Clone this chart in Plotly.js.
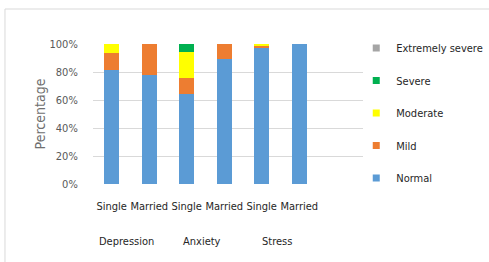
<!DOCTYPE html>
<html>
<head>
<meta charset="utf-8">
<script src="https://cdn.plot.ly/plotly-3.0.1.min.js"></script>
<style>html,body{margin:0;padding:0;background:#fff}#chart{width:489px;height:262px}</style>
</head>
<body>
<div id="chart"></div>
<script>
const categories = ['Depression Single','Depression Married','Anxiety Single','Anxiety Married','Stress Single','Stress Married'];
const tickLabels = ['Single','Married','Single','Married','Single','Married'];
const groupLabels = ['Depression','Anxiety','Stress'];
const groupCenters = [0.5, 2.5, 4.5];
const seriesNames = ['Normal','Mild','Moderate','Severe','Extremely severe'];
const normal   = [81.6, 77.8, 64.2, 89.0, 97.0, 100];
const mild     = [12.0, 22.2, 11.5, 11.0, 1.5, 0];
const moderate = [6.4, 0, 18.6, 0, 1.5, 0];
const severe   = [0, 0, 5.7, 0, 0, 0];
const extremelySevere = [0, 0, 0, 0, 0, 0];
const yTicks = [0, 20, 40, 60, 80, 100];
const yTickText = ['0%','20%','40%','60%','80%','100%'];

const colors = ['#5B9BD5','#ED7D31','#FFFF00','#00B050','#A5A5A5'];
const values = [normal, mild, moderate, severe, extremelySevere];
const FONT = '"DejaVu Sans Condensed", "Liberation Sans Narrow", "Liberation Sans", sans-serif';

const traces = [];
values.forEach((v, i) => {
  traces.push({
    type: 'bar', x: categories, y: v, name: seriesNames[i],
    marker: {color: colors[i], line: {width: 0}},
    width: 0.4, showlegend: false, hoverinfo: 'skip'
  });
});
// legend entries (small square markers), top to bottom: Extremely severe ... Normal
for (let i = values.length - 1; i >= 0; i--) {
  traces.push({
    type: 'scatter', mode: 'markers', x: [categories[0]], y: [null], name: seriesNames[i],
    marker: {color: colors[i], symbol: 'square', size: 7},
    legendgroup: 'g' + (values.length - 1 - i), showlegend: true, hoverinfo: 'skip'
  });
}

const annotations = groupLabels.map((g, i) => ({
  x: groupCenters[i], y: 0, xref: 'x', yref: 'paper', yshift: -66, xshift: -4,
  text: g, showarrow: false, font: {family: FONT, size: 11, color: '#262626'}
}));

const layout = {
  width: 489, height: 262,
  margin: {l: 93, r: 126, t: 44, b: 78, autoexpand: false},
  paper_bgcolor: '#fff', plot_bgcolor: '#fff',
  barmode: 'stack', bargap: 0.6,
  font: {family: FONT, size: 11, color: '#595959'},
  xaxis: {
    type: 'category', range: [-0.5, 6.7],
    tickvals: categories, ticktext: tickLabels, tickangle: 0,
    ticks: 'outside', ticklen: 12, tickcolor: 'rgba(0,0,0,0)',
    tickfont: {family: FONT, size: 11, color: '#262626'},
    showgrid: false, zeroline: false, showline: false, fixedrange: true
  },
  yaxis: {
    range: [0, 100], tickvals: yTicks, ticktext: yTickText,
    ticks: 'outside', ticklen: 12, tickcolor: 'rgba(0,0,0,0)',
    tickfont: {family: FONT, size: 11, color: '#595959'},
    showgrid: true, gridcolor: '#D9D9D9', gridwidth: 1, zeroline: false, showline: false,
    title: {text: 'Percentage', font: {family: FONT, size: 14, color: '#6F6F6F'}, standoff: 0}
  },
  legend: {
    x: 0.975, xanchor: 'left', y: 1.075, yanchor: 'top', maxheight: 250,
    traceorder: 'grouped', tracegroupgap: 13.5,
    font: {family: FONT, size: 11, color: '#262626'},
    bgcolor: 'rgba(0,0,0,0)', itemclick: false
  },
  shapes: [{
    type: 'rect', xref: 'paper', yref: 'paper', x0: -0.326, x1: 1.6, y0: -0.7, y1: 1.25,
    line: {color: '#D9D9D9', width: 1}, fillcolor: 'rgba(0,0,0,0)', layer: 'below'
  }],
  annotations: annotations,
  showlegend: true
};

Plotly.newPlot('chart', traces, layout, {displayModeBar: false, staticPlot: true});
</script>
</body>
</html>
